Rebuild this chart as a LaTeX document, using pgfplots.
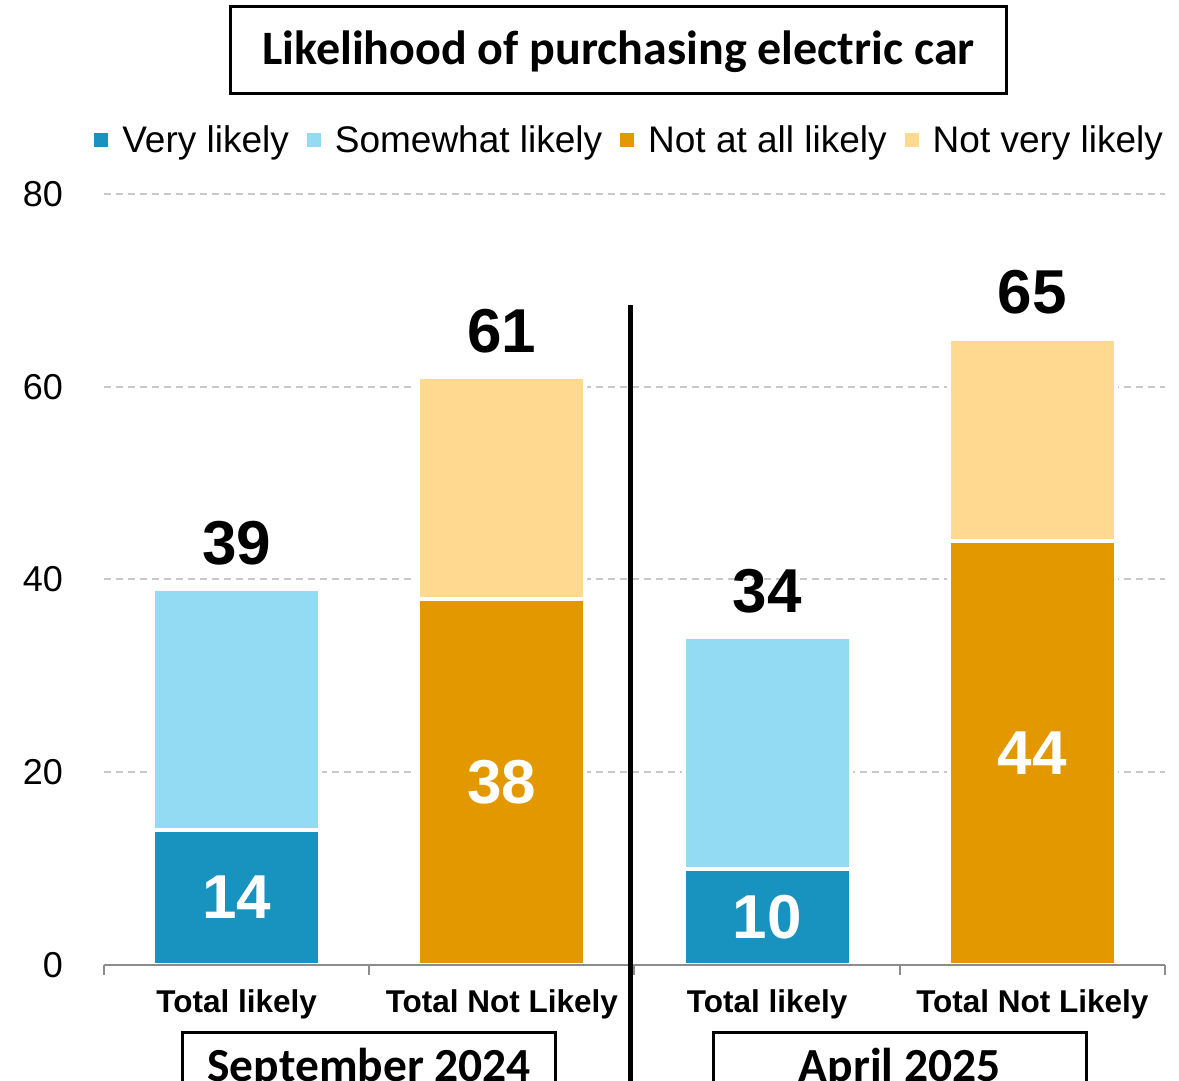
\documentclass[border=0pt]{standalone}
\usepackage{fontspec}
\setmainfont{Liberation Sans}
\newfontfamily\calibri{Carlito}
\usepackage{pgfplots}
\pgfplotsset{compat=1.18}
\definecolor{cVery}{HTML}{1893C0}
\definecolor{cSome}{HTML}{93DBF3}
\definecolor{cNotAll}{HTML}{E39800}
\definecolor{cNotVery}{HTML}{FFD98F}
\definecolor{axisgray}{HTML}{8C8C8C}
\definecolor{gridgray}{HTML}{C8C8C8}
\begin{document}
\begin{tikzpicture}
\begin{axis}[
  at={(0pt,0pt)}, anchor=south west,
  scale only axis, width=1061pt, height=771pt,
  xmin=-0.5, xmax=3.5, ymin=0, ymax=80,
  clip=false,
  ybar stacked, bar width=167pt,
  axis x line*=bottom, axis y line*=left,
  y axis line style={draw=none},
  x axis line style={draw=axisgray, line width=2pt},
  xtick={0,1,2,3},
  xticklabels={Total likely, Total Not Likely, Total likely, Total Not Likely},
  xtick style={draw=none},
  xticklabel style={font=\fontsize{31.5}{36}\selectfont\bfseries, anchor=base, inner sep=0pt, yshift=-48pt},
  ytick={0,20,40,60,80},
  ytick style={draw=none},
  yticklabel style={font=\fontsize{36}{43}\selectfont, anchor=east, inner sep=0pt, xshift=-41pt},
  /pgf/number format/assume math mode=true,
  ymajorgrids,
  grid style={draw=gridgray, line width=2pt, dash pattern=on 7pt off 5pt},
  extra x ticks={-0.5,0.5,1.5,2.5,3.5},
  extra x tick labels={},
  extra x tick style={grid=none, tick align=outside, major tick length=10pt, xtick style={draw=axisgray, line width=2pt}},
  legend style={at={(0.4945,1.070)}, anchor=center, draw=none, fill=none,
    legend columns=-1, font=\fontsize{37}{44}\selectfont,
    nodes={inner sep=0pt},
    /tikz/every odd column/.append style={column sep=14pt},
    /tikz/every even column/.append style={column sep=18pt}},
  legend image code/.code={\path[#1,draw=none] (0pt,-7pt) rectangle (14pt,7pt);},
]
\addplot[fill=cVery, draw=white, line width=4pt] coordinates {(0,14) (1,0) (2,10) (3,0)};
\addlegendentry{Very likely}
\addplot[fill=cSome, draw=white, line width=4pt] coordinates {(0,25) (1,0) (2,24) (3,0)};
\addlegendentry{Somewhat likely}
\addplot[fill=cNotAll, draw=white, line width=4pt] coordinates {(0,0) (1,38) (2,0) (3,44)};
\addlegendentry{Not at all likely}
\addplot[fill=cNotVery, draw=white, line width=4pt] coordinates {(0,0) (1,23) (2,0) (3,21)};
\addlegendentry{Not very likely}

\coordinate (xa) at (axis cs:-0.5,0);
\coordinate (xb) at (axis cs:3.5,0);
\coordinate (va) at (axis cs:1.4868,68.5);
\coordinate (vb) at (axis cs:1.4868,-14);
% totals
\coordinate (t0) at (axis cs:0,39);
\coordinate (t1) at (axis cs:1,61);
\coordinate (t2) at (axis cs:2,34);
\coordinate (t3) at (axis cs:3,65);
% inside
\coordinate (i0) at (axis cs:0,7);
\coordinate (i1) at (axis cs:1,19);
\coordinate (i2) at (axis cs:2,5);
\coordinate (i3) at (axis cs:3,22);
% groups
\coordinate (g0) at (axis cs:0.5,0);
\coordinate (g1) at (axis cs:2.5,0);
\end{axis}
\draw[axisgray, line width=2pt] (xa) -- (xb);
\draw[black, line width=5pt] (va) -- (vb);
\foreach \c/\v in {t0/39,t1/61,t2/34,t3/65}
  \node[font=\fontsize{62}{70}\selectfont\bfseries, anchor=base, yshift=25pt] at (\c) {\v};
\foreach \c/\v in {i0/14,i1/38,i2/10,i3/44}
  \node[font=\fontsize{62}{70}\selectfont\bfseries, text=white] at (\c) {\v};
\foreach \c in {g0,g1}
  \node[draw=black, line width=3pt, minimum width=373pt, minimum height=90pt, anchor=north, yshift=-66pt, inner sep=0pt] at (\c) {};
\node[font=\calibri\bfseries\fontsize{47.5}{56}\selectfont, anchor=base, yshift=-117pt] at (g0) {September 2024};
\node[font=\calibri\bfseries\fontsize{47.5}{56}\selectfont, anchor=base, yshift=-117pt] at (g1) {April 2025};
% title
\node[draw=black, line width=3pt, minimum width=776pt, minimum height=87pt, inner sep=0pt] at (514.5pt,915pt) {};
\node[font=\calibri\bfseries\fontsize{48}{56}\selectfont, anchor=base] at (514.5pt,900pt) {Likelihood of purchasing electric car};
\pgfresetboundingbox
\useasboundingbox (-104pt,-116pt) rectangle (1075pt,965pt);
\end{tikzpicture}
\end{document}
